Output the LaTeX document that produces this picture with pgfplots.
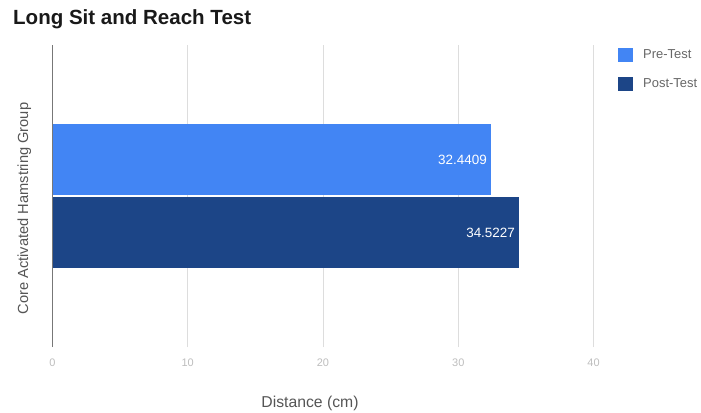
\documentclass[border=0pt]{standalone}
\usepackage{fontspec}
\setmainfont{Liberation Sans}
\usepackage{pgfplots}
\pgfplotsset{compat=1.18}

\definecolor{preblue}{HTML}{4285F4}
\definecolor{postblue}{HTML}{1C4587}
\definecolor{gridgray}{HTML}{DDDDDD}
\definecolor{basegray}{HTML}{777777}
\definecolor{ticktext}{HTML}{BDBDBD}
\definecolor{labeltext}{HTML}{555555}
\definecolor{legendtext}{HTML}{666666}

\begin{document}
\begin{tikzpicture}
% fixed page frame around the plot area
\useasboundingbox (-52.5bp,-66bp) rectangle (648.5bp,347bp);
\node[anchor=base west, font=\fontsize{20.6}{24}\selectfont\bfseries, text=black!90, inner sep=0pt]
  at (-39.5bp,322bp) {Long Sit and Reach Test};
\begin{axis}[
  at={(0,0)}, anchor=south west,
  scale only axis,
  width=541bp, height=302bp,
  xmin=0, xmax=40, ymin=0, ymax=302,
  xtick={10,20,30,40},
  extra x ticks={0},
  extra x tick style={grid style={draw=basegray, line width=1.1bp}},
  ytick=\empty,
  major tick length=0pt,
  axis line style={draw=none},
  xmajorgrids,
  grid style={draw=gridgray, line width=0.8bp},
  /pgf/number format/assume math mode=true,
  xticklabel style={font=\fontsize{11}{13}\selectfont, text=ticktext, anchor=center, yshift=-16bp},
  xlabel={Distance (cm)},
  xlabel style={at={(axis description cs:0.476,0)}, anchor=base,
    yshift=-60bp, font=\fontsize{15.8}{18}\selectfont, text=labeltext},
  ylabel={Core Activated Hamstring Group},
  ylabel style={at={(axis description cs:-0.052,0.4586)}, anchor=center,
    font=\fontsize{14.7}{17}\selectfont, text=labeltext},
  xbar, bar shift=0pt, bar width=71,
  nodes near coords,
  nodes near coords style={anchor=east, xshift=-1bp, text=white,
    font=\fontsize{13.5}{16}\selectfont,
    /pgf/number format/.cd, fixed, precision=4, assume math mode=true},
  legend style={at={(axis description cs:1.0453,0.99)}, anchor=north west,
    draw=none, fill=none, inner sep=0pt, row sep=15bp,
    font=\fontsize{13}{15}\selectfont, text=legendtext,
    nodes={inner sep=0pt, anchor=west},
    /tikz/every odd column/.append style={column sep=10bp}},
  legend cell align=left,
  legend image code/.code={\fill[#1, draw=none] (0bp,-7bp) rectangle (15bp,7bp);},
]
\addplot[fill=preblue, draw=none] coordinates {(32.4409,187.5)};
\addlegendentry{Pre-Test}
\addplot[fill=postblue, draw=none] coordinates {(34.5227,114.5)};
\addlegendentry{Post-Test}
\end{axis}
\end{tikzpicture}
\end{document}
